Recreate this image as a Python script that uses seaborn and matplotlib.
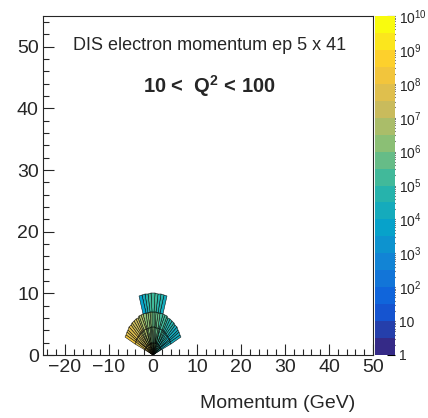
import numpy as np
import matplotlib
matplotlib.use("Agg")
import matplotlib.pyplot as plt
import seaborn as sns
from matplotlib.colors import LinearSegmentedColormap, LogNorm
from matplotlib.ticker import MultipleLocator, FixedLocator, FixedFormatter, NullFormatter

# polar bins: electron angle (deg) and momentum (GeV)
fan_theta_edges = [24, 28, 32, 36, 40, 44, 48, 52, 56, 60, 64, 68, 72, 76, 80, 84, 88, 92,
                   96, 100, 104, 108, 112, 116, 120, 124, 128, 132, 136, 140, 144, 148, 152, 156]
fan_p_edges = [0, 2, 4.5, 7]
tip_theta_edges = [72, 76, 80, 84, 88, 92, 96, 100, 104, 108]
tip_p_edges = [7, 10]

# log10(counts), one row per momentum bin, columns follow the angle bins
fan_log_counts = [
    [4.6, 4.5, 4.8, 4.7, 5.0, 4.9, 5.2, 5.1, 5.4, 5.3, 5.6, 5.5, 5.8, 5.7, 6.0, 6.0, 6.2,
     6.1, 6.4, 6.3, 6.6, 6.5, 6.8, 6.7, 7.0, 6.9, 7.2, 7.1, 7.4, 7.3, 7.6, 7.5, 7.8],
    [4.3, 4.2, 4.5, 4.4, 4.7, 4.6, 4.9, 4.8, 5.1, 5.0, 5.3, 5.2, 5.5, 5.5, 5.8, 5.7, 6.0,
     5.9, 6.2, 6.1, 6.4, 6.4, 6.7, 6.6, 6.9, 6.9, 7.2, 7.1, 7.4, 7.4, 7.7, 7.6, 7.9],
    [4.0, 4.2, 4.1, 4.3, 4.4, 4.6, 4.5, 4.8, 4.9, 5.0, 5.1, 5.3, 5.4, 5.5, 5.6, 5.8, 5.9,
     6.0, 6.2, 6.3, 6.4, 6.6, 6.7, 6.8, 7.0, 7.1, 7.2, 7.4, 7.5, 7.6, 7.8, 7.9, 8.0],
]
tip_log_counts = [
    [4.4, 4.5, 4.6, 5.0, 5.3, 5.2, 4.7, 4.2, 3.9],
]

# ROOT kBird palette, 20 contour levels
bird_stops = [0.0, 0.125, 0.25, 0.375, 0.5, 0.625, 0.75, 0.875, 1.0]
bird_rgb = [(0.2082, 0.1664, 0.5293), (0.0592, 0.3599, 0.8684), (0.0780, 0.5041, 0.8385),
            (0.0232, 0.6419, 0.7914), (0.1802, 0.7178, 0.6425), (0.5301, 0.7492, 0.4662),
            (0.8186, 0.7328, 0.3499), (0.9956, 0.7862, 0.1968), (0.9764, 0.9832, 0.0539)]
bird = LinearSegmentedColormap.from_list("bird", list(zip(bird_stops, bird_rgb)), N=20)

sns.set_style("ticks")
plt.rcParams["font.family"] = ["Liberation Sans", "DejaVu Sans"]
plt.rcParams["mathtext.fontset"] = "custom"
plt.rcParams["mathtext.rm"] = "Liberation Sans"
plt.rcParams["mathtext.bf"] = "Liberation Sans:bold"

fig = plt.figure(figsize=(4.28, 4.18), dpi=100)
ax = fig.add_axes([43 / 428, 1 - 355 / 418, 330 / 428, 339 / 418])
norm = LogNorm(vmin=1, vmax=1e10)


def polar_mesh(theta_edges, p_edges, log_counts):
    th, p = np.meshgrid(np.radians(theta_edges), p_edges)
    counts = 10.0 ** np.array(log_counts)
    return ax.pcolormesh(p * np.cos(th), p * np.sin(th), counts, cmap=bird, norm=norm,
                         edgecolors="black", linewidth=0.35, antialiased=True)


mesh = polar_mesh(fan_theta_edges, fan_p_edges, fan_log_counts)
polar_mesh(tip_theta_edges, tip_p_edges, tip_log_counts)

ax.set_xlim(-25, 50)
ax.set_ylim(0, 55)
ax.xaxis.set_major_locator(MultipleLocator(10))
ax.xaxis.set_minor_locator(MultipleLocator(2))
ax.yaxis.set_major_locator(MultipleLocator(10))
ax.yaxis.set_minor_locator(MultipleLocator(2))
ax.tick_params(which="both", direction="in", labelsize=14, width=0.8, pad=3)
ax.tick_params(which="major", length=8)
ax.tick_params(which="minor", length=4)
for s in ax.spines.values():
    s.set_linewidth(0.8)
ax.set_xlabel("Momentum (GeV)", fontsize=14, ha="right")
ax.xaxis.set_label_coords(312 / 330, -0.118)

fig.text(210 / 428, 1 - 45 / 418, "DIS electron momentum ep 5 x 41", fontsize=13,
         ha="center", va="center")
fig.text(209 / 428, 1 - 86 / 418, r"10 <  Q$^\mathbf{2}$ < 100", fontsize=14.5,
         fontweight="bold", ha="center", va="center")

# palette axis
cax = fig.add_axes([375 / 428, 1 - 355 / 418, 20 / 428, 339 / 418])
cb = fig.colorbar(mesh, cax=cax)
cb.outline.set_visible(False)
major = [10.0 ** k for k in range(11)]
labels = ["1", "10"] + [r"$10^{%d}$" % k for k in range(2, 11)]
cax.yaxis.set_major_locator(FixedLocator(major))
cax.yaxis.set_major_formatter(FixedFormatter(labels))
minor = [m * 10.0 ** k for k in range(10) for m in range(2, 10)]
cax.yaxis.set_minor_locator(FixedLocator(minor))
cax.yaxis.set_minor_formatter(NullFormatter())
cax.tick_params(which="both", direction="in", labelsize=10, width=0.8, pad=3, color="black")
cax.tick_params(which="major", length=6)
cax.tick_params(which="minor", length=3)

fig.savefig("out.png", dpi=100)
